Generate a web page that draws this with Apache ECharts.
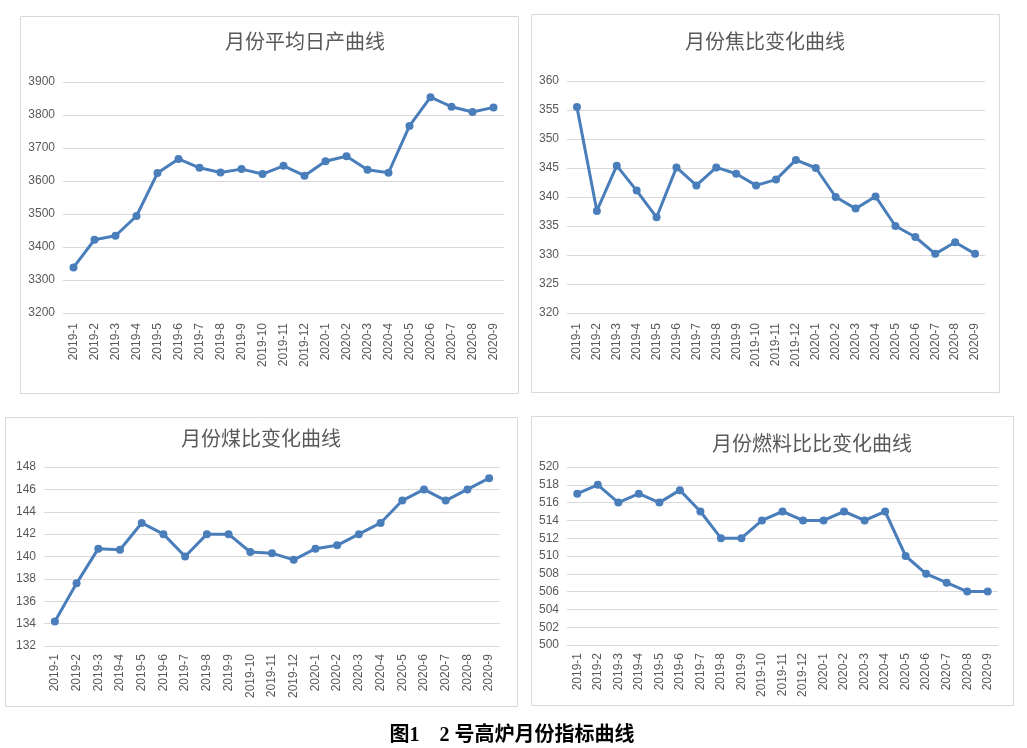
<!DOCTYPE html>
<html>
<head>
<meta charset="utf-8">
<script src="https://cdn.jsdelivr.net/npm/echarts@6/dist/echarts.min.js"></script>
<style>
html,body{margin:0;padding:0;background:#fff;}
#c{width:1027px;height:748px;}
</style>
</head>
<body>
<div id="c"></div>
<script>
var months = ['2019-1','2019-2','2019-3','2019-4','2019-5','2019-6','2019-7','2019-8','2019-9','2019-10','2019-11','2019-12','2020-1','2020-2','2020-3','2020-4','2020-5','2020-6','2020-7','2020-8','2020-9'];
var dailyOutput = [3338,3422,3434,3494,3624,3667,3640,3626,3636,3621,3646,3616,3660,3675,3634,3625,3767,3854,3825,3809,3823];
var cokeRate = [355.5,337.6,345.4,341.1,336.5,345.1,342.0,345.1,344.0,342.0,343.0,346.4,345.0,340.0,338.0,340.1,335.0,333.1,330.2,332.2,330.2];
var coalRate = [134.2,137.6,140.7,140.6,143.0,142.0,140.0,142.0,142.0,140.4,140.3,139.7,140.7,141.0,142.0,143.0,145.0,146.0,145.0,146.0,147.0];
var fuelRate = [517,518,516,517,516,517.4,515,512,512,514,515,514,514,515,514,515,510,508,507,506,506];
var titles = ['月份平均日产曲线','月份焦比变化曲线','月份煤比变化曲线','月份燃料比比变化曲线'];
var caption = '图1　2 号高炉月份指标曲线';

var lineColor = '#4a7ebb';
var gridColor = '#d9d9d9';
var textColor = '#595959';
var font = '"Liberation Sans", "Noto Sans CJK SC", sans-serif';

var grids = [
  {left:63, top:82, width:441, height:231},
  {left:567, top:81, width:418, height:232},
  {left:44, top:467, width:456, height:179},
  {left:567, top:467, width:431, height:178}
];
var yRanges = [[3200,3900,100],[320,360,5],[132,148,2],[500,520,2]];
var seriesData = [dailyOutput, cokeRate, coalRate, fuelRate];
var labelMargins = [10,10,8,8];
var panels = [[20,16,498,377],[531,14,468,378],[5,417,512,289],[531,416,482,289]];
var titlePos = [[305,41],[765,41],[261,438],[812,443]];

var xAxes = [], yAxes = [], series = [], graphics = [];
for (var i = 0; i < 4; i++) {
  xAxes.push({
    type:'category', gridIndex:i, data:months, boundaryGap:true,
    axisLine:{show:true, lineStyle:{color:gridColor, width:1}},
    axisTick:{show:false},
    axisLabel:{interval:0, rotate:90, color:textColor, fontSize:12, fontFamily:font, margin:labelMargins[i]}
  });
  yAxes.push({
    type:'value', gridIndex:i, min:yRanges[i][0], max:yRanges[i][1], interval:yRanges[i][2],
    axisLine:{show:false}, axisTick:{show:false},
    axisLabel:{color:textColor, fontSize:12, fontFamily:font, margin:8, formatter:function(v){return String(v);}},
    splitLine:{lineStyle:{color:gridColor, width:1}}
  });
  series.push({
    type:'line', xAxisIndex:i, yAxisIndex:i, data:seriesData[i],
    symbol:'circle', symbolSize:8,
    lineStyle:{color:lineColor, width:3},
    itemStyle:{color:lineColor},
    animation:false
  });
  var p = panels[i];
  graphics.push({type:'rect', shape:{x:p[0]+0.5, y:p[1]+0.5, width:p[2], height:p[3]}, style:{fill:'none', stroke:gridColor, lineWidth:1}, z:-10, silent:true});
  graphics.push({type:'text', x:titlePos[i][0], y:titlePos[i][1], style:{text:titles[i], fill:textColor, font:'20px "Noto Sans CJK SC", sans-serif', textAlign:'center', textVerticalAlign:'middle'}});
}
graphics.push({type:'text', x:512, y:736, style:{text:caption, fill:'#000', font:'bold 20px "Liberation Serif", "Noto Sans CJK SC", serif', textAlign:'center', textVerticalAlign:'middle'}});

var chart = echarts.init(document.getElementById('c'), null, {renderer:'canvas'});
chart.setOption({
  animation:false,
  backgroundColor:'#fff',
  grid:grids.map(function(g){return Object.assign({containLabel:false}, g);}),
  xAxis:xAxes,
  yAxis:yAxes,
  series:series,
  graphic:graphics
});
</script>
</body>
</html>
